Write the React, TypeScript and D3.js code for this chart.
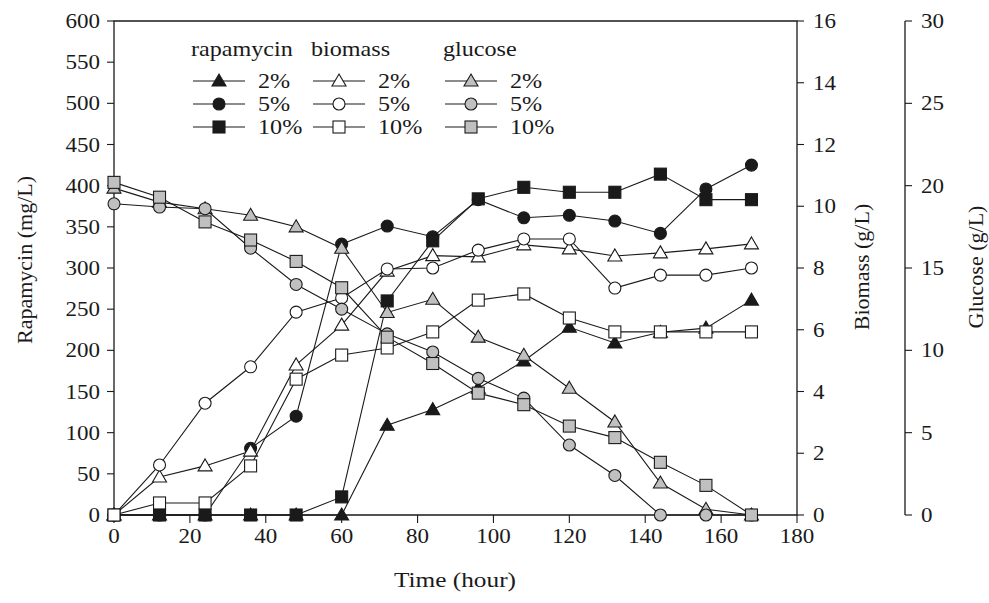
import React from "react";
import * as d3 from "d3";

// sampling times (hour)
const times = [0, 12, 24, 36, 48, 60, 72, 84, 96, 108, 120, 132, 144, 156, 168];

// rapamycin (mg/L)
const rapa2 = [0, 0, 0, 0, 0, 0, 109, 128, 154, 187, 228, 209, 222, 227, 261];
const rapa5 = [0, 0, 0, 81, 120, 329, 351, 338, 383, 361, 364, 357, 342, 396, 425];
const rapa10 = [0, 0, 0, 0, 0, 22, 260, 333, 384, 398, 392, 392, 414, 383, 383];

// biomass (g/L)
const bio2 = [0, 1.23, 1.59, 2.07, 4.86, 6.15, 7.9, 8.4, 8.36, 8.75, 8.62, 8.39, 8.49, 8.62, 8.78];
const bio5 = [0, 1.62, 3.62, 4.8, 6.57, 7.03, 7.97, 8.0, 8.58, 8.94, 8.94, 7.35, 7.77, 7.77, 8.0];
const bio10 = [0, 0.39, 0.39, 1.59, 4.4, 5.18, 5.41, 5.93, 6.96, 7.16, 6.38, 5.93, 5.93, 5.93, 5.93];

// glucose (g/L)
const glu2 = [19.85, 19.0, 18.6, 18.2, 17.5, 16.2, 12.3, 13.1, 10.8, 9.7, 7.7, 5.65, 1.94, 0.35, 0];
const glu5 = [18.9, 18.7, 18.6, 16.2, 14.0, 12.5, 11.0, 9.9, 8.3, 7.1, 4.25, 2.4, 0, 0, 0];
const glu10 = [20.2, 19.3, 17.8, 16.7, 15.4, 13.8, 10.8, 9.2, 7.4, 6.7, 5.4, 4.7, 3.2, 1.8, 0];

const xTicks = [0, 20, 40, 60, 80, 100, 120, 140, 160, 180];
const rapaTicks = [0, 50, 100, 150, 200, 250, 300, 350, 400, 450, 500, 550, 600];
const bioTicks = [0, 2, 4, 6, 8, 10, 12, 14, 16];
const gluTicks = [0, 5, 10, 15, 20, 25, 30];
const levels = ["2%", "5%", "10%"];
const groups = ["rapamycin", "biomass", "glucose"];

const W = 989, H = 603;
const FONT = "Liberation Serif, Tinos, Times New Roman, Times, serif";
const INK = "#1a1a1a";
const GRAY = "#c0c0c0";
const SX = 1.15; // the original text looks slightly wide

const x = d3.scaleLinear().domain([0, 180]).range([114, 797]);
const yR = d3.scaleLinear().domain([0, 600]).range([515, 21]);
const yB = d3.scaleLinear().domain([0, 16]).range([515, 21]);
const yG = d3.scaleLinear().domain([0, 30]).range([515, 21]);

type Shape = "tri" | "circ" | "sq";

function Marker({ cx, cy, shape, fill }: { cx: number; cy: number; shape: Shape; fill: string }) {
  const p = { fill, stroke: INK, strokeWidth: 1.1 };
  if (shape === "circ") return <circle cx={cx} cy={cy} r={6} {...p} />;
  if (shape === "sq") return <rect x={cx - 6} y={cy - 6} width={12} height={12} {...p} />;
  return <path d={`M${cx},${cy - 7}L${cx + 7},${cy + 5}L${cx - 7},${cy + 5}Z`} {...p} />;
}

function T({ x, y, anchor = "start", size = 20, children }: any) {
  return (
    <text transform={`translate(${x},${y}) scale(${SX},1)`} textAnchor={anchor}
      fontFamily={FONT} fontSize={size} fill={INK}>{children}</text>
  );
}

export default function App() {
  const series = [
    { vals: rapa2, y: yR, shape: "tri", fill: INK },
    { vals: rapa5, y: yR, shape: "circ", fill: INK },
    { vals: rapa10, y: yR, shape: "sq", fill: INK },
    { vals: bio2, y: yB, shape: "tri", fill: "#fff" },
    { vals: bio5, y: yB, shape: "circ", fill: "#fff" },
    { vals: bio10, y: yB, shape: "sq", fill: "#fff" },
    { vals: glu2, y: yG, shape: "tri", fill: GRAY },
    { vals: glu5, y: yG, shape: "circ", fill: GRAY },
    { vals: glu10, y: yG, shape: "sq", fill: GRAY },
  ] as { vals: number[]; y: d3.ScaleLinear<number, number>; shape: Shape; fill: string }[];

  const legendX = [193, 313, 445];
  const legendY = [81, 104, 127];

  return (
    <svg width={W} height={H} style={{ position: "absolute", left: 0, top: 0, background: "#fff" }}>
      {/* frame */}
      <path d={`M${x(0)},${yR(600)}H${x(180)}V${yR(0)}H${x(0)}Z`} fill="none" stroke={INK} strokeWidth={1.3} />

      {/* left axis */}
      {rapaTicks.map(t => (
        <g key={"r" + t}>
          <line x1={x(0) - 7} x2={x(0)} y1={yR(t)} y2={yR(t)} stroke={INK} strokeWidth={1.1} />
          <T x={x(0) - 14} y={yR(t) + 7} anchor="end">{t}</T>
        </g>
      ))}
      {/* bottom axis */}
      {xTicks.map(t => (
        <g key={"x" + t}>
          <line x1={x(t)} x2={x(t)} y1={yR(0)} y2={yR(0) + 8} stroke={INK} strokeWidth={1.1} />
          <T x={x(t)} y={543} anchor="middle">{t}</T>
        </g>
      ))}
      {/* biomass axis */}
      {bioTicks.map(t => (
        <g key={"b" + t}>
          <line x1={x(180)} x2={x(180) + 7} y1={yB(t)} y2={yB(t)} stroke={INK} strokeWidth={1.1} />
          <T x={x(180) + 16} y={yB(t) + 7}>{t}</T>
        </g>
      ))}
      {/* glucose axis */}
      <line x1={905} x2={905} y1={yG(0)} y2={yG(30)} stroke={INK} strokeWidth={1.3} />
      {gluTicks.map(t => (
        <g key={"g" + t}>
          <line x1={905} x2={912} y1={yG(t)} y2={yG(t)} stroke={INK} strokeWidth={1.1} />
          <T x={921} y={yG(t) + 7}>{t}</T>
        </g>
      ))}

      {/* axis titles */}
      <text transform="translate(32,260) rotate(-90)" textAnchor="middle" fontFamily={FONT} fontSize={22} fill={INK}>Rapamycin (mg/L)</text>
      <text transform="translate(869,267) rotate(-90)" textAnchor="middle" fontFamily={FONT} fontSize={22} fill={INK}>Biomass (g/L)</text>
      <text transform="translate(983,267) rotate(-90)" textAnchor="middle" fontFamily={FONT} fontSize={22} fill={INK}>Glucose (g/L)</text>
      <T x={455} y={587} anchor="middle" size={22}>Time (hour)</T>

      {/* series */}
      {series.map((s, i) => {
        const pts = s.vals.map((v, j) => [x(times[j]), s.y(v)] as [number, number]);
        return (
          <g key={"s" + i}>
            <path d={d3.line()(pts) || ""} fill="none" stroke={INK} strokeWidth={1.1} />
            {pts.map(([cx, cy], j) => <Marker key={j} cx={cx} cy={cy} shape={s.shape} fill={s.fill} />)}
          </g>
        );
      })}

      {/* legend */}
      {groups.map((g, gi) => (
        <g key={g}>
          <T x={legendX[gi] - 2} y={56} size={21}>{g}</T>
          {levels.map((lv, li) => {
            const s = series[gi * 3 + li];
            const ly = legendY[li];
            return (
              <g key={lv}>
                <line x1={legendX[gi]} x2={legendX[gi] + 52} y1={ly} y2={ly} stroke={INK} strokeWidth={1.1} />
                <Marker cx={legendX[gi] + 26} cy={ly} shape={s.shape} fill={s.fill} />
                <T x={legendX[gi] + 65} y={ly + 7} size={21}>{lv}</T>
              </g>
            );
          })}
        </g>
      ))}
    </svg>
  );
}
